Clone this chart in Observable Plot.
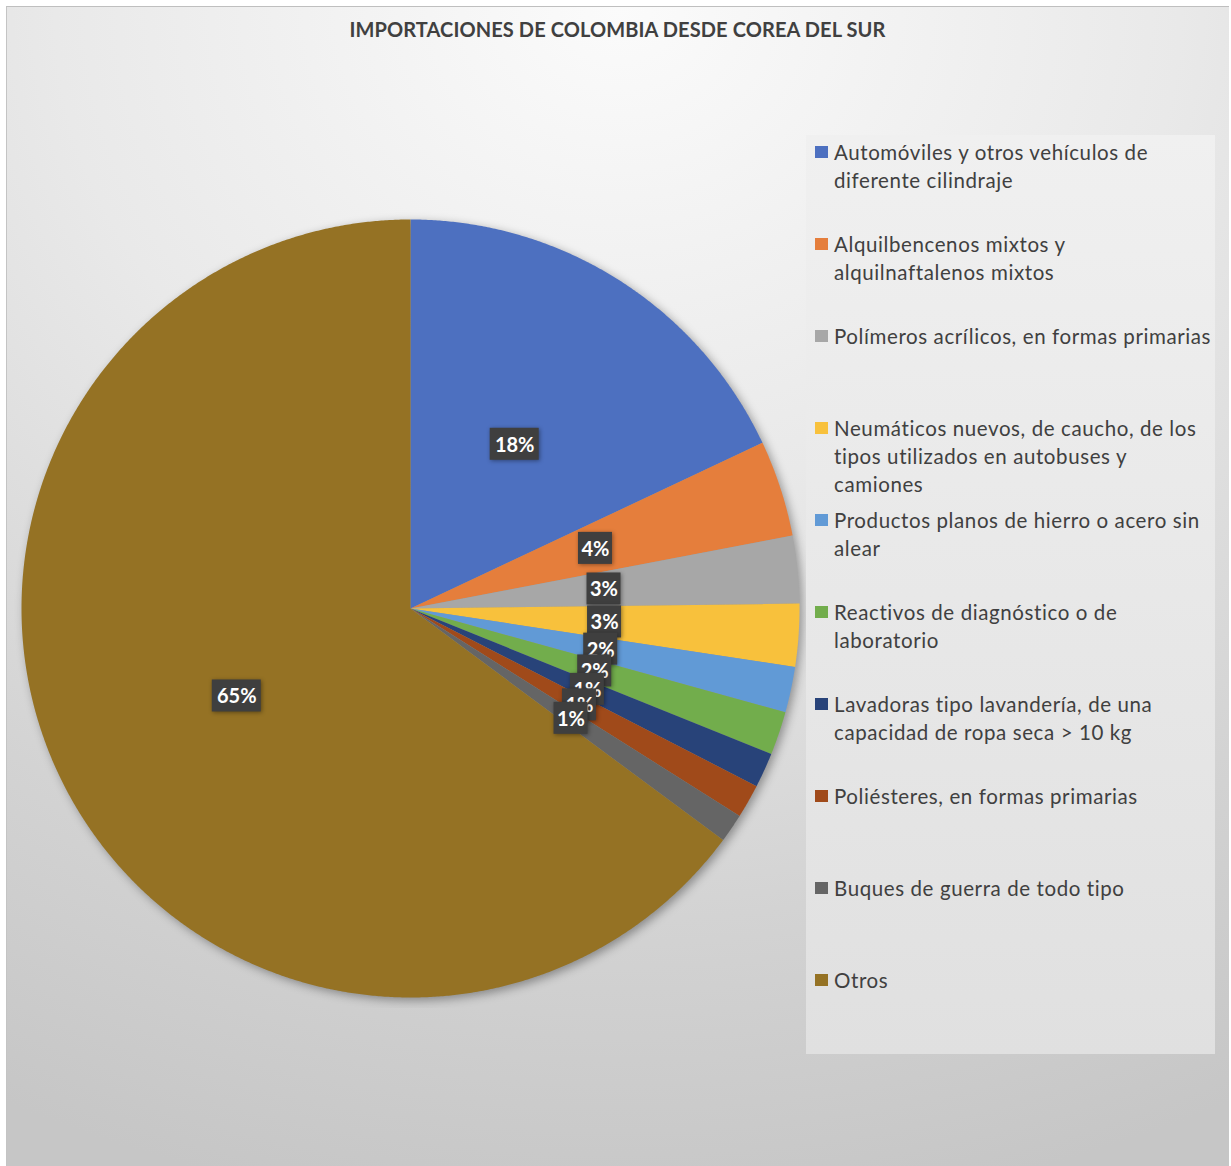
<!DOCTYPE html>
<html><head><meta charset="utf-8">
<script src="https://cdn.jsdelivr.net/npm/d3@7"></script>
<script src="https://cdn.jsdelivr.net/npm/@observablehq/plot@0.6"></script>
<style>
html,body{margin:0;padding:0;}
body{width:1231px;height:1166px;overflow:hidden;background:#fff;position:relative;font-family:Lato,"Open Sans",sans-serif;}
#frame{position:absolute;left:6px;top:6px;width:1223px;height:1160px;box-sizing:border-box;border-top:1px solid #bfbfbf;border-left:1px solid #c4c4c4;
 background:radial-gradient(ellipse 115% 105% at 50% 0%, #fbfbfb 0%, #e9e9e9 40%, #d3d3d3 75%, #c6c6c6 100%);}
#title{position:absolute;left:6px;top:16px;width:1223px;text-align:center;font:bold 20px Lato,sans-serif;color:#404040;line-height:26px;letter-spacing:0.1px;}
#legend{position:absolute;left:806px;top:135px;width:409px;height:919px;background:linear-gradient(#f0f0f0,#e0e0e0);}
.item{position:absolute;left:834px;font-size:20.5px;line-height:28px;color:#404040;white-space:pre;letter-spacing:0.6px;}
.sw{position:absolute;left:815px;width:13px;height:12px;}
#plot{position:absolute;left:0;top:208px;}
</style></head>
<body>
<div id="frame"></div>
<div id="title"></div>
<div id="legend"></div>
<div id="plot"></div>
<script>
const chartTitle = "IMPORTACIONES DE COLOMBIA DESDE COREA DEL SUR";
const categories = [
  "Automóviles y otros vehículos de\ndiferente cilindraje",
  "Alquilbencenos mixtos y\nalquilnaftalenos mixtos",
  "Polímeros acrílicos, en formas primarias",
  "Neumáticos nuevos, de caucho, de los\ntipos utilizados en autobuses y\ncamiones",
  "Productos planos de hierro o acero sin\nalear",
  "Reactivos de diagnóstico o de\nlaboratorio",
  "Lavadoras tipo lavandería, de una\ncapacidad de ropa seca > 10 kg",
  "Poliésteres, en formas primarias",
  "Buques de guerra de todo tipo",
  "Otros"
];
const shares = [18.0, 4.0, 2.8, 2.6, 1.9, 1.8, 1.45, 1.4, 1.2, 64.85];
const pctLabels = ["18%","4%","3%","3%","2%","2%","1%","1%","1%","65%"];
const colors = ["#4D70C0","#E57E3C","#A7A7A7","#F8C13C","#619AD6","#72AD4C","#284379","#A04A1A","#656565","#957224"];

document.getElementById("title").textContent = chartTitle;

// legend
categories.forEach((c, i) => {
  const top = 152 + 92 * i;
  const sw = document.createElement("div");
  sw.className = "sw"; sw.style.top = (top - 6) + "px"; sw.style.background = colors[i];
  document.body.appendChild(sw);
  const t = document.createElement("div");
  t.className = "item"; t.style.top = (top - 14) + "px"; t.textContent = c;
  document.body.appendChild(t);
});

// pie geometry
const R = 389;
const arcs = d3.pie().sort(null).value(d => d)(shares);
const slices = [];
arcs.forEach((a, i) => {
  const n = Math.max(2, Math.ceil((a.endAngle - a.startAngle) / 0.005));
  slices.push({name: categories[i], x: 0, y: 0});
  for (let k = 0; k <= n; k++) {
    const t = a.startAngle + (a.endAngle - a.startAngle) * k / n;
    slices.push({name: categories[i], x: R * Math.sin(t), y: R * Math.cos(t)});
  }
  slices.push({name: categories[i], x: 0, y: 0});
});
const labelData = arcs.map((a, i) => {
  const m = (a.startAngle + a.endAngle) / 2;
  return {label: pctLabels[i], x: 0.5 * R * Math.sin(m), y: 0.5 * R * Math.cos(m)};
});

const labelMarks = labelData.flatMap(d => {
  const hw = d.label.length * 7.5 + 2;
  return [
    Plot.rect([d], {x1: "x", x2: "x", y1: "y", y2: "y", fill: "#3f3f3f",
      insetLeft: -hw, insetRight: -hw, insetTop: -16, insetBottom: -16}),
    Plot.text([d], {x: "x", y: "y", text: "label", fill: "white", fontSize: 20, fontWeight: "bold", dy: 1})
  ];
});

const plot = Plot.plot({
  width: 806, height: 800,
  margin: 0,
  x: {domain: [-410, 396], range: [0, 806], axis: null},
  y: {domain: [-400, 400], range: [800, 0], axis: null},
  color: {domain: categories, range: colors},
  style: {background: "transparent", fontFamily: "Lato, sans-serif"},
  marks: [
    Plot.line(slices, {x: "x", y: "y", z: "name", fill: "name", stroke: "none", curve: "linear"}),
    ...labelMarks
  ]
});
document.getElementById("plot").appendChild(plot);
const lg = plot.querySelector('g[aria-label="line"]');
if (lg) lg.style.filter = "drop-shadow(3px 3px 5px rgba(0,0,0,0.35))";
plot.querySelectorAll('g[aria-label="rect"]').forEach(g => g.style.filter = "drop-shadow(1px 1px 2px rgba(0,0,0,0.4))");
</script>
</body></html>
